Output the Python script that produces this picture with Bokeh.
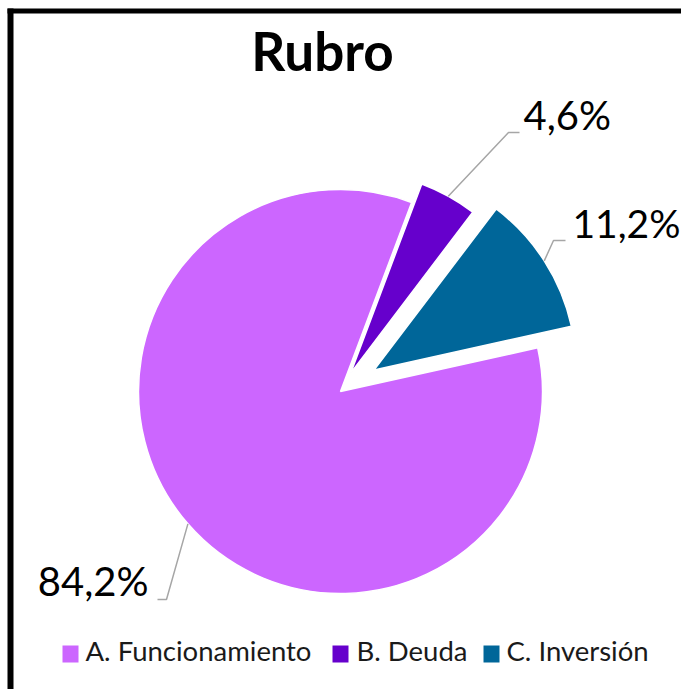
import math
from bokeh.plotting import figure
from bokeh.models import Range1d
from bokeh.core.properties import value
from bokeh.embed import file_html
from bokeh.resources import INLINE

# ---- data ----
title = "Rubro"
categories = ["A. Funcionamiento", "B. Deuda", "C. Inversión"]
values = [84.2, 4.6, 11.2]
labels = ["84,2%", "4,6%", "11,2%"]
colors = ["#CC66FF", "#6600CC", "#006699"]

# ---- layout / style ----
W, H = 681, 689
FONT = "Lato"
BASE_K = 0.45               # baseline correction (fraction of font size)
first_angle = 77.5          # degrees, clockwise from 12 o'clock
explode = [0, 21, 40]       # px offset of each slice
cx_page, cy_page, R = 340, 391, 202
# label placement in page px: (text x, baseline y, align, elbow x, elbow y, end x, size)
label_pos = [
    (148, 598, "right", 166, 599, 157, 40),
    (523, 132, "left", 508, 132, 519, 40),
    (572, 240, "left", 553, 240, 565, 39),
]

def X(px):
    return px

def Y(py):
    return H - py

def TY(py, size):
    # baseline position in data coords, corrected for renderer offset
    return Y(py - BASE_K * size)

p = figure(width=W, height=H, output_backend="svg", toolbar_location=None,
           x_range=Range1d(0, W), y_range=Range1d(0, H), min_border=0,
           background_fill_color="white", border_fill_color="white")
p.xaxis.visible = False
p.yaxis.visible = False
p.grid.visible = False
p.outline_line_color = None
p.outline_line_alpha = 0

# border of the chart area (top and left visible)
p.quad(left=[7], right=[W + 10], top=[Y(8)], bottom=[Y(13)],
       fill_color="black", line_color=None)
p.quad(left=[7], right=[13], top=[Y(8)], bottom=[-10],
       fill_color="black", line_color=None)

# pie
total = sum(values)
theta = first_angle
cx, cy = X(cx_page), Y(cy_page)
for i, v in enumerate(values):
    span = v / total * 360.0
    ts, te = theta, theta + span
    tm = (ts + te) / 2
    mid = math.radians(90 - tm)
    ox = cx + explode[i] * math.cos(mid)
    oy = cy + explode[i] * math.sin(mid)
    p.wedge(x=[ox], y=[oy], radius=R,
            start_angle=[math.radians(90 - te)], end_angle=[math.radians(90 - ts)],
            direction="anticlock", fill_color=colors[i], line_color="white",
            line_width=1.5)
    # leader line from arc midpoint
    ax = ox + R * math.cos(mid)
    ay = oy + R * math.sin(mid)
    tx, ty, al, ex, ey, endx, fs = label_pos[i]
    p.line(x=[ax, X(ex), X(endx)], y=[ay, Y(ey), Y(ey)], line_color="#A6A6A6",
           line_width=1.5)
    p.text(x=[X(tx)], y=[TY(ty, fs)], text=[labels[i]], text_align=al,
           text_baseline="alphabetic", text_font=value(FONT),
           text_font_size=f"{fs}px", text_color="black")
    theta = te

# title
p.text(x=[X(322)], y=[TY(74, 53)], text=[title], text_align="center",
       text_baseline="alphabetic", text_font=value(FONT), text_font_style="bold",
       text_font_size="53px", text_color="black")

# legend
leg_sq = [62, 332, 483]
leg_tx = [85, 356, 506]
for i, c in enumerate(categories):
    p.quad(left=[X(leg_sq[i])], right=[X(leg_sq[i] + 16)], top=[Y(645)],
           bottom=[Y(662)], fill_color=colors[i], line_color=None)
    p.text(x=[X(leg_tx[i])], y=[TY(662, 27.5)], text=[c], text_align="left",
           text_baseline="alphabetic", text_font=value(FONT),
           text_font_size="27.5px", text_color="#1a1a1a")

open("out.html", "w").write(file_html(p, INLINE))
